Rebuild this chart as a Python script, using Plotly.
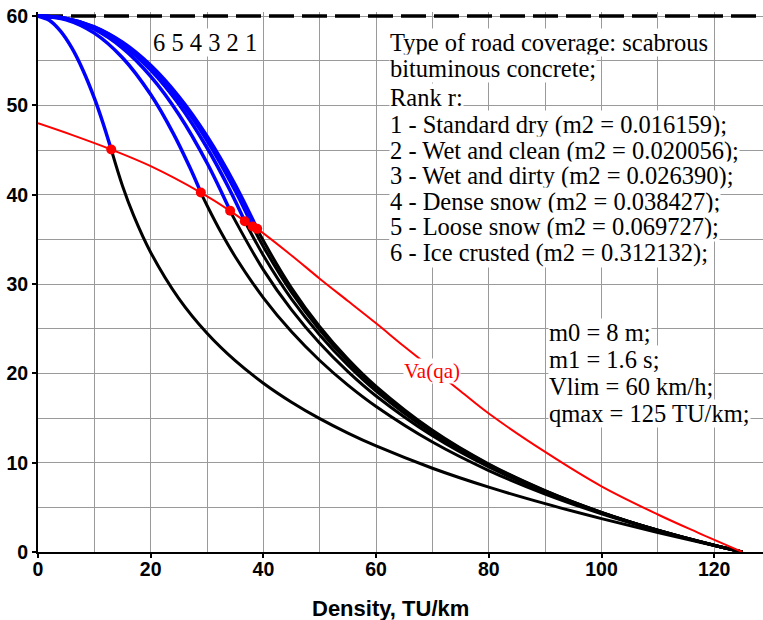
import plotly.graph_objects as go

# ---------------- data ----------------
VLIM = 60
QMAX = 125

# Va(qa) curve (red)
Q_RED = [0, 6, 13.0, 20, 28.9, 34.1, 36.7, 38.1, 38.9, 45, 50, 55, 60, 65, 70, 75, 80, 90, 100, 110, 117, 125]
V_RED = [48.0, 46.7, 45.06, 43.2, 40.24, 38.2, 37.03, 36.44, 36.18, 33.2, 30.6, 28.1, 25.6, 23.0, 20.5, 18.0, 15.5, 11.2, 7.35, 4.2, 2.2, 0]

# intersection points (red dots), ranks 6..1
Q_DOT = [13.0, 28.9, 34.1, 36.7, 38.1, 38.9]
V_DOT = [45.06, 40.24, 38.2, 37.03, 36.44, 36.18]

# blue (free-flow) branches, ranks 1..6
Q_BLUE_1 = [0, 5, 10, 15, 20, 25, 30, 35, 38.9]
V_BLUE_1 = [60, 59.74, 58.80, 57.07, 54.49, 50.99, 46.55, 41.12, 36.18]
Q_BLUE_2 = [0, 5, 10, 15, 20, 25, 30, 35, 38.1]
V_BLUE_2 = [60, 59.73, 58.76, 56.97, 54.29, 50.67, 46.07, 40.45, 36.44]
Q_BLUE_3 = [0, 5, 10, 15, 20, 25, 30, 34, 36.7]
V_BLUE_3 = [60, 59.71, 58.68, 56.79, 53.96, 50.13, 45.26, 40.59, 37.03]
Q_BLUE_4 = [0, 5, 10, 15, 20, 25, 30, 34.1]
V_BLUE_4 = [60, 59.68, 58.53, 56.42, 53.26, 48.99, 43.55, 38.2]
Q_BLUE_5 = [0, 5, 10, 15, 20, 24, 27, 28.9]
V_BLUE_5 = [60, 59.58, 58.09, 55.33, 51.21, 46.87, 42.98, 40.24]
Q_BLUE_6 = [0, 2, 4, 6, 8, 10, 11.5, 13.0]
V_BLUE_6 = [60, 59.53, 58.31, 56.43, 53.91, 50.81, 48.09, 45.06]

# black (congested) branches, ranks 1..6
Q_BLACK_1 = [38.9, 40, 45, 50, 55, 60, 70, 80, 90, 100, 110, 120, 125]
V_BLACK_1 = [36.18, 34.84, 29.55, 25.22, 21.60, 18.54, 13.62, 9.85, 6.87, 4.44, 2.44, 0.75, 0]
Q_BLACK_2 = [38.1, 40, 45, 50, 55, 60, 70, 80, 90, 100, 110, 120, 125]
V_BLACK_2 = [36.44, 34.18, 29.06, 24.85, 21.33, 18.33, 13.51, 9.79, 6.84, 4.43, 2.43, 0.75, 0]
Q_BLACK_3 = [36.7, 40, 45, 50, 55, 60, 70, 80, 90, 100, 110, 120, 125]
V_BLACK_3 = [37.03, 33.20, 28.32, 24.30, 20.91, 18.01, 13.33, 9.69, 6.79, 4.41, 2.43, 0.75, 0]
Q_BLACK_4 = [34.1, 35, 40, 45, 50, 55, 60, 70, 80, 90, 100, 110, 120, 125]
V_BLACK_4 = [38.2, 37.10, 31.59, 27.10, 23.36, 20.19, 17.46, 13.01, 9.52, 6.70, 4.37, 2.42, 0.75, 0]
Q_BLACK_5 = [28.9, 30, 32.5, 35, 40, 45, 50, 55, 60, 70, 80, 90, 100, 110, 120, 125]
V_BLACK_5 = [40.24, 38.79, 35.76, 33.06, 28.45, 24.65, 21.44, 18.68, 16.29, 12.31, 9.12, 6.49, 4.28, 2.39, 0.74, 0]
Q_BLACK_6 = [13.0, 15, 17, 20, 25, 30, 35, 40, 45, 50, 55, 60, 70, 80, 90, 100, 110, 120, 125]
V_BLACK_6 = [45.06, 40.98, 37.63, 33.54, 28.37, 24.49, 21.42, 18.90, 16.77, 14.93, 13.31, 11.87, 9.38, 7.26, 5.41, 3.74, 2.19, 0.72, 0]

X_TICKS = [0, 20, 40, 60, 80, 100, 120]
Y_TICKS = [0, 10, 20, 30, 40, 50, 60]

INFO_LINES = [
    "Type of road coverage: scabrous",
    "bituminous concrete;",
    "Rank r:",
    "1 - Standard dry (m2 = 0.016159);",
    "2 - Wet and clean (m2 = 0.020056);",
    "3 - Wet and dirty (m2 = 0.026390);",
    "4 - Dense snow (m2 = 0.038427);",
    "5 - Loose snow (m2 = 0.069727);",
    "6 - Ice crusted (m2 = 0.312132);",
]
PARAM_LINES = ["m0 = 8 m;", "m1 = 1.6 s;", "Vlim = 60 km/h;", "qmax = 125 TU/km;"]
RANK_LABEL = "6 5 4 3 2 1"
CURVE_LABEL = "Va(qa)"
X_TITLE = "Density, TU/km"

# ---------------- layout geometry ----------------
W, H = 763, 620
ML, MR, MT, MB = 38, 0, 12, 68
PW, PH = W - ML - MR, H - MT - MB
XMAX = PW / 5.635
YMAX = PH / 8.932


def px(x):
    return (x - ML) / PW


def py(y):
    return (H - MB - y) / PH


SERIF = "Liberation Serif, Times New Roman, serif"
SANS = "Liberation Sans, Arial, sans-serif"

fig = go.Figure()

# Vlim dashed line
fig.add_trace(go.Scatter(x=[0, XMAX], y=[VLIM, VLIM], mode="lines",
                         line=dict(color="black", width=3.5, dash="25px,8px"),
                         hoverinfo="skip", showlegend=False))

blue = [(Q_BLUE_1, V_BLUE_1), (Q_BLUE_2, V_BLUE_2), (Q_BLUE_3, V_BLUE_3),
        (Q_BLUE_4, V_BLUE_4), (Q_BLUE_5, V_BLUE_5), (Q_BLUE_6, V_BLUE_6)]
black = [(Q_BLACK_1, V_BLACK_1), (Q_BLACK_2, V_BLACK_2), (Q_BLACK_3, V_BLACK_3),
         (Q_BLACK_4, V_BLACK_4), (Q_BLACK_5, V_BLACK_5), (Q_BLACK_6, V_BLACK_6)]

for q, v in black:
    fig.add_trace(go.Scatter(x=q, y=v, mode="lines",
                             line=dict(color="black", width=3, shape="spline", smoothing=1.0),
                             showlegend=False))
for q, v in blue:
    fig.add_trace(go.Scatter(x=q, y=v, mode="lines",
                             line=dict(color="#0000FF", width=3.5, shape="spline", smoothing=1.0),
                             showlegend=False))

fig.add_trace(go.Scatter(x=Q_RED, y=V_RED, mode="lines",
                         line=dict(color="#FF0000", width=2, shape="spline", smoothing=1.0),
                         showlegend=False))
fig.add_trace(go.Scatter(x=Q_DOT, y=V_DOT, mode="markers",
                         marker=dict(color="#FF0000", size=10, line=dict(width=0)),
                         showlegend=False))

annotations = []
ys1 = [42, 68, 98, 125, 151, 176, 202, 227, 253]
for t, yy in zip(INFO_LINES, ys1):
    annotations.append(dict(text=t, xref="paper", yref="paper", x=px(389), y=py(yy),
                            xanchor="left", yanchor="middle", showarrow=False,
                            bgcolor="white", borderpad=0,
                            font=dict(family=SERIF, size=24.5, color="black")))
ys2 = [332, 359, 386, 413]
for t, yy in zip(PARAM_LINES, ys2):
    annotations.append(dict(text=t, xref="paper", yref="paper", x=px(548), y=py(yy),
                            xanchor="left", yanchor="middle", showarrow=False,
                            bgcolor="white", borderpad=0,
                            font=dict(family=SERIF, size=24.5, color="black")))
annotations.append(dict(text=RANK_LABEL, xref="paper", yref="paper", x=px(205), y=py(42),
                        xanchor="center", yanchor="middle", showarrow=False,
                        bgcolor="white", borderpad=0,
                        font=dict(family=SERIF, size=24.5, color="black")))
annotations.append(dict(text=CURVE_LABEL, xref="paper", yref="paper", x=px(432), y=py(371),
                        xanchor="center", yanchor="middle", showarrow=False,
                        bgcolor="white", borderpad=0,
                        font=dict(family=SERIF, size=21, color="#FF0000")))
annotations.append(dict(text=X_TITLE, xref="paper", yref="paper", x=px(390), y=py(608),
                        xanchor="center", yanchor="middle", showarrow=False,
                        font=dict(family=SANS, size=22, color="black", weight="bold")))

grid = "#9a9a9a"
fig.update_layout(
    width=W, height=H,
    margin=dict(l=ML, r=MR, t=MT, b=MB, pad=0, autoexpand=False),
    paper_bgcolor="white", plot_bgcolor="white",
    showlegend=False,
    annotations=annotations,
    xaxis=dict(range=[0, XMAX], tickvals=X_TICKS, showgrid=True, gridcolor=grid, gridwidth=1,
               minor=dict(dtick=10, tick0=0, showgrid=True, gridcolor=grid, gridwidth=1),
               showline=True, linecolor="black", linewidth=2, zeroline=False,
               ticks="outside", ticklen=4, tickcolor="black", tickwidth=1.5, automargin=False,
               ticklabelstandoff=-5,
               tickfont=dict(family=SANS, size=19.5, color="black", weight="bold")),
    yaxis=dict(range=[0, YMAX], tickvals=Y_TICKS, showgrid=True, gridcolor=grid, gridwidth=1,
               minor=dict(dtick=5, tick0=0, showgrid=True, gridcolor=grid, gridwidth=1),
               showline=True, linecolor="black", linewidth=2, zeroline=False,
               ticks="outside", ticklen=4, tickcolor="black", tickwidth=1.5, automargin=False,
               tickfont=dict(family=SANS, size=19.5, color="black", weight="bold")),
)

fig.write_html("out.html", config={"displayModeBar": False},
               post_script="document.body.style.margin='0px';document.body.style.padding='0px';")
